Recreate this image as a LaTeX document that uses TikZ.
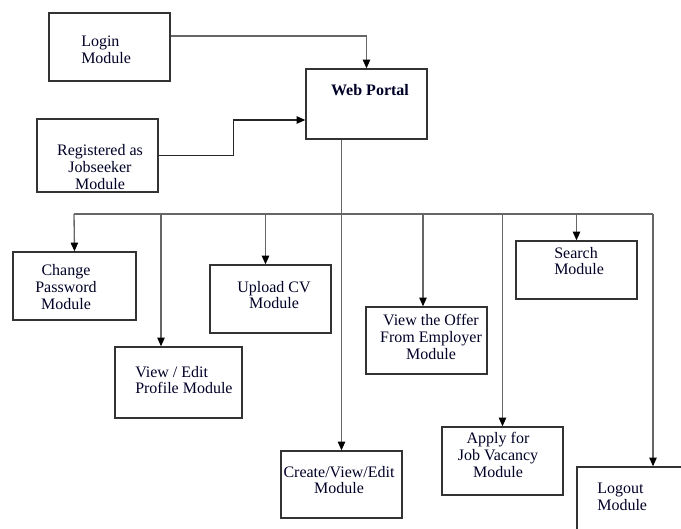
\documentclass[tikz,border=0pt]{standalone}
\usepackage{fontspec}
\setmainfont{Liberation Serif}
\usetikzlibrary{arrows.meta,calc}
\begin{document}
\begin{tikzpicture}[x=0.75pt,y=-0.75pt,
  box/.style={draw=black!80,line width=1pt,inner sep=0pt},
  lbl/.style={font=\fontsize{12}{12.6}\selectfont,inner sep=0pt,text=black!85!blue},
  conn/.style={draw=black!60,line width=1pt},
  arr/.style={conn,-{Triangle[length=6.5pt,width=5.5pt,color=black]}}]
\useasboundingbox (0,0) rectangle (681,528);
\clip (0,0) rectangle (681,528);
% boxes
\node[box,minimum width=90.75pt,minimum height=51pt] (login) at (109.5,47) {};
\node[box,minimum width=90.75pt,minimum height=52.5pt] (web) at (366.5,104) {};
\node[box,minimum width=90.75pt,minimum height=54.75pt] (reg) at (97.5,155.5) {};
\node[box,minimum width=92.25pt,minimum height=51pt] (change) at (74.5,286) {};
\node[box,minimum width=95.25pt,minimum height=53.25pt] (view) at (178.5,382.5) {};
\node[box,minimum width=90.75pt,minimum height=51pt] (upload) at (270.5,299) {};
\node[box,minimum width=90.75pt,minimum height=50.25pt] (offer) at (426.5,340.5) {};
\node[box,minimum width=90.75pt,minimum height=43.5pt] (search) at (576.5,270) {};
\node[box,minimum width=90.75pt,minimum height=51pt] (apply) at (502.5,461) {};
\node[box,minimum width=90.75pt,minimum height=50.25pt] (create) at (341.5,484.5) {};
\node[box,minimum width=114pt,minimum height=69.75pt] (logout) at (653,513.5) {};
% texts
\node[lbl,align=left,anchor=west] (tlogin) at (81,50) {Login\\Module};
\node[lbl,font=\fontsize{12}{12.6}\selectfont\bfseries] (tweb) at (370,90) {Web Portal};
\node[lbl,align=center] (treg) at (100,167) {Registered as\\Jobseeker\\Module};
\node[lbl,align=center] (tchange) at (66,287) {Change\\Password\\Module};
\node[lbl,align=left,anchor=west] (tview) at (135,380) {View / Edit\\Profile Module};
\node[lbl,align=center] (tupload) at (274,295) {Upload CV\\Module};
\node[lbl,align=center] (toffer) at (431,337) {View the Offer\\From Employer\\Module};
\node[lbl,align=left,anchor=west] (tsearch) at (554,261) {Search\\Module};
\node[lbl,align=center] (tapply) at (498,455) {Apply for\\Job Vacancy\\Module};
\node[lbl,align=center] (tcreate) at (339,480) {Create/View/Edit\\Module};
\node[lbl,align=left,anchor=west] (tlogout) at (597,497) {Logout\\Module};
% connectors
\draw[arr] ([yshift=8.25pt]login.east) -| (web.north);
\draw[arr,draw=black!85] (reg.east) -- ++(75,0) |- ([yshift=-12pt]web.west);
\coordinate (busL) at (74,214);
\coordinate (busR) at (653,214);
\draw[conn] (busL) -- (busR);
\draw[arr] (web.south -| create.north) -- (create.north);
\draw[arr] (busL) -- (change.north);
\draw[arr] ($(busL -| view.north)+(-17.5,0)$) -- ($(view.north)+(-17.5,0)$);
\draw[arr] ($(busL -| upload.north)+(-5,0)$) -- ($(upload.north)+(-5,0)$);
\draw[arr] ($(busL -| offer.north)+(-3.5,0)$) -- ($(offer.north)+(-3.5,0)$);
\draw[arr] (busL -| search.north) -- (search.north);
\draw[arr] (busL -| apply.north) -- (apply.north);
\draw[arr] (busR) -- (logout.north);
\end{tikzpicture}
\end{document}
